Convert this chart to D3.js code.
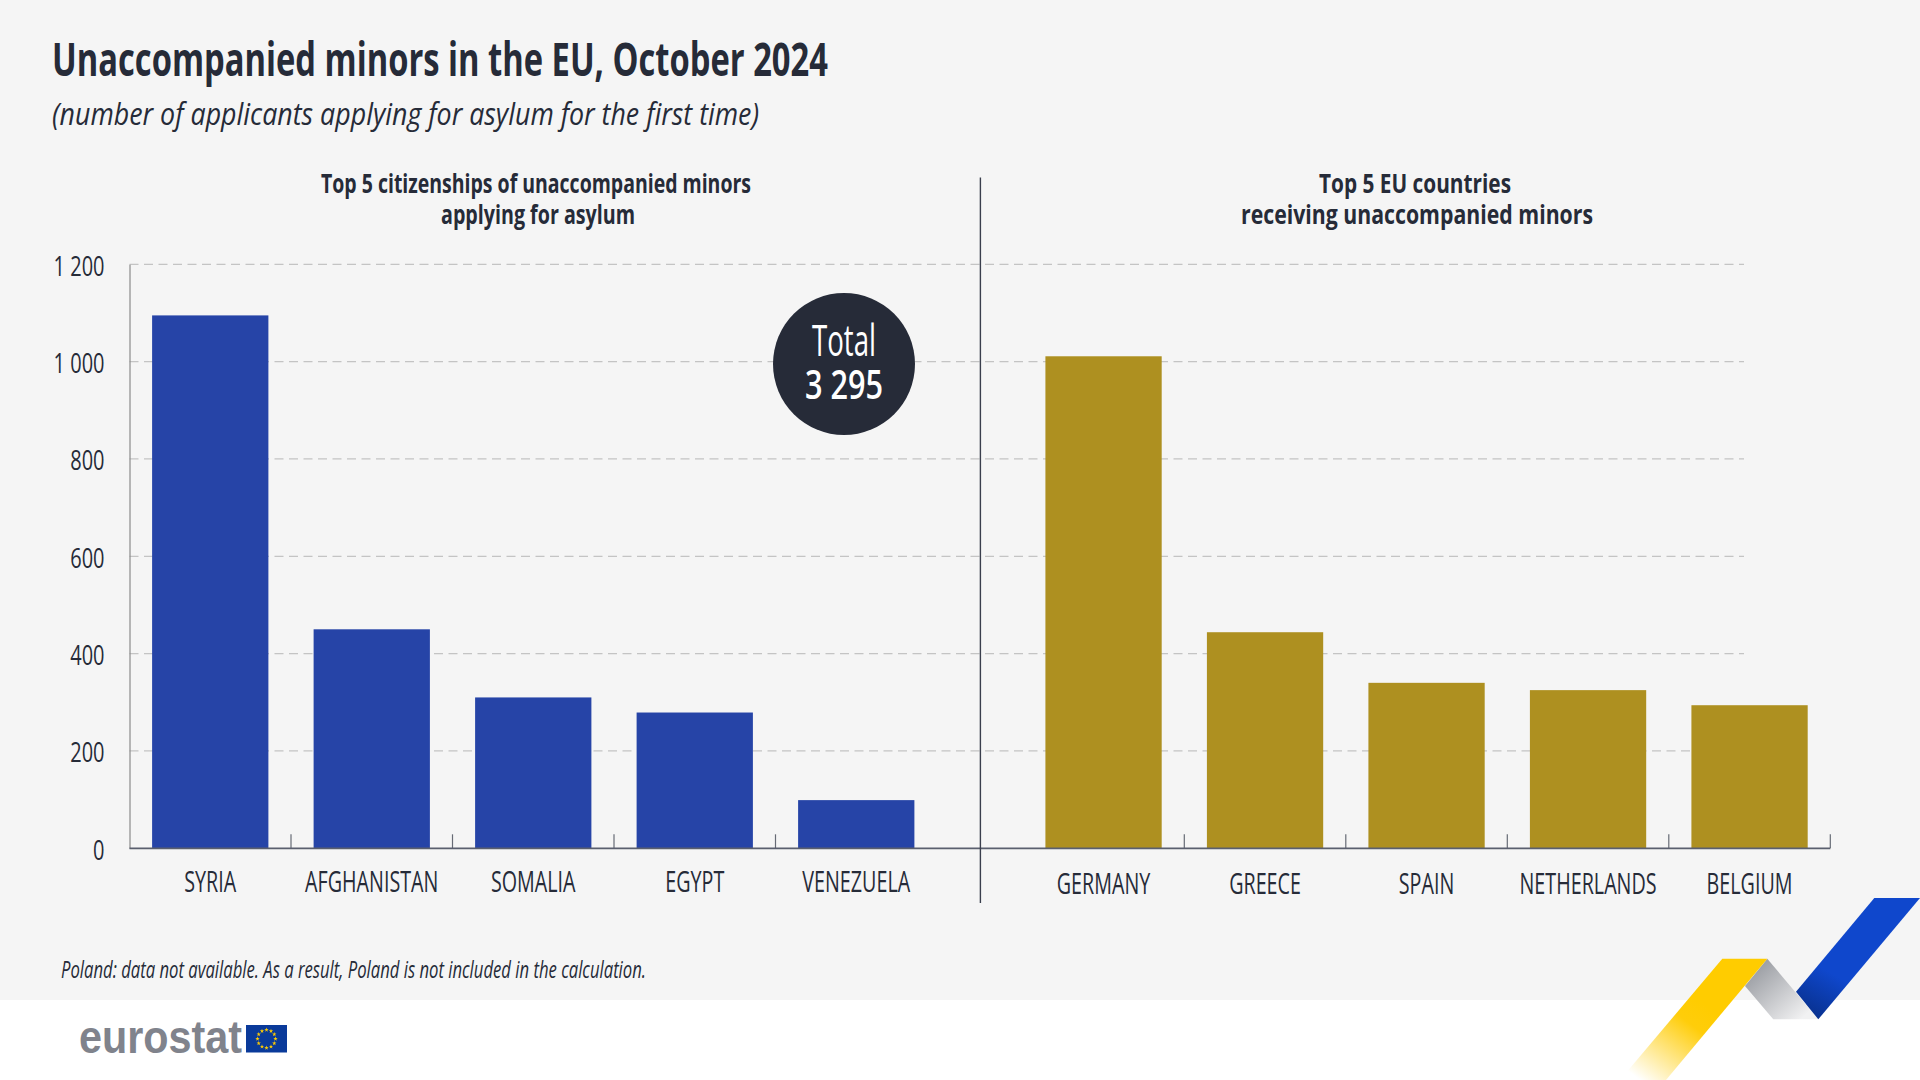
<!DOCTYPE html>
<html>
<head>
<meta charset="utf-8">
<script src="https://cdn.jsdelivr.net/npm/d3@7"></script>
<style>
  html, body { margin: 0; padding: 0; background: #fff; }
  text { font-family: "Open Sans", "Noto Sans", sans-serif; fill: #262b38; }
</style>
</head>
<body>
<div id="chart"></div>
<script>
const citizenships = ["SYRIA", "AFGHANISTAN", "SOMALIA", "EGYPT", "VENEZUELA"];
const citizenshipValues = [1095, 450, 310, 279, 99];
const receivers = ["GERMANY", "GREECE", "SPAIN", "NETHERLANDS", "BELGIUM"];
const receiverValues = [1011, 444, 340, 325, 294];
const yTicks = [0, 200, 400, 600, 800, 1000, 1200];

const width = 1920;
const height = 1080;
const baseY = 848.3;
const topY = 264.3;
const axisL = 129.5;

const svg = d3.select("#chart").append("svg")
  .attr("width", width)
  .attr("height", height)
  .style("display", "block");

const defs = svg.append("defs");

function gradient(id, x1, y1, x2, y2, stops) {
  const g = defs.append("linearGradient").attr("id", id)
    .attr("gradientUnits", "userSpaceOnUse")
    .attr("x1", x1).attr("y1", y1).attr("x2", x2).attr("y2", y2);
  stops.forEach((s) => g.append("stop").attr("offset", s[0]).attr("stop-color", s[1]));
}

svg.append("rect").attr("width", width).attr("height", 1000).attr("fill", "#f5f5f5");

// ribbon, bottom right
gradient("yellowFade", 1700, 1000, 1640, 1080, [[0, "#ffcc00"], [0.25, "#ffcd0a"], [1, "#ffffff"]]);
gradient("greyFade", 1750, 965, 1800, 1020, [[0, "#94979d"], [1, "#f1f1f2"]]);
gradient("blueFade", 1850, 960, 1815, 1020, [[0, "#0f47cc"], [0.3, "#0f47cc"], [1, "#08308c"]]);
const ribbon = d3.line();
svg.append("path").attr("fill", "url(#greyFade)")
  .attr("d", ribbon([[1767.3, 958.7], [1818.3, 1019.3], [1773.3, 1019.3], [1745, 986]]) + "Z");
svg.append("path").attr("fill", "url(#yellowFade)")
  .attr("d", ribbon([[1722.3, 958.7], [1767.3, 958.7], [1666, 1080], [1620, 1080]]) + "Z");
svg.append("path").attr("fill", "url(#blueFade)")
  .attr("d", ribbon([[1874.3, 898], [1920, 898], [1818.3, 1019.3], [1796, 991.7]]) + "Z");

// text helper, squeezes to the width measured on the picture
function label(x, y, str, size, w, opts = {}) {
  const t = svg.append("text")
    .attr("x", x).attr("y", y)
    .attr("font-size", size)
    .attr("font-weight", opts.weight || "normal")
    .attr("font-style", opts.style || "normal")
    .attr("text-anchor", opts.anchor || "start")
    .text(str);
  if (w) t.attr("textLength", w).attr("lengthAdjust", "spacingAndGlyphs");
  if (opts.fill) t.style("fill", opts.fill);
  return t;
}

// no condensed face installed, so tick labels are narrowed by a fixed factor
function squeeze(sel, factor) {
  sel.attr("lengthAdjust", "spacingAndGlyphs")
    .attr("textLength", function () { return this.getComputedTextLength() * factor; });
}

label(52, 76, "Unaccompanied minors in the EU, October 2024", 46, 776, { weight: 700 });
label(52, 125, "(number of applicants applying for asylum for the first time)", 31, 707, { style: "italic" });

label(536, 193, "Top 5 citizenships of unaccompanied minors", 27, 430, { weight: 700, anchor: "middle" });
label(538, 223.5, "applying for asylum", 27, 194, { weight: 700, anchor: "middle" });
label(1415, 193, "Top 5 EU countries", 27, 192, { weight: 700, anchor: "middle" });
label(1417, 223.5, "receiving unaccompanied minors", 27, 352, { weight: 700, anchor: "middle" });

label(61, 978, "Poland: data not available. As a result, Poland is not included in the calculation.", 23, 585, { style: "italic" });

const yScale = d3.scaleLinear().domain([0, 1200]).range([baseY, topY]);

const leftX = d3.scaleBand().domain(citizenships).range([129.5, 937])
  .paddingInner(0.28).paddingOuter(0.14);
const rightX = d3.scaleBand().domain(receivers).range([1022.8, 1830.3])
  .paddingInner(0.28).paddingOuter(0.14);

// gridlines
svg.append("g").selectAll("line")
  .data(yTicks.filter((d) => d > 0))
  .enter().append("line")
  .attr("x1", axisL).attr("x2", 1744)
  .attr("y1", (d) => yScale(d)).attr("y2", (d) => yScale(d))
  .attr("stroke", "#c4c4c4").attr("stroke-width", 1.2)
  .attr("stroke-dasharray", "9 5.5");

// y axis
const yAxis = svg.append("g")
  .attr("transform", `translate(${axisL},0)`)
  .call(d3.axisLeft(yScale).tickValues(yTicks).tickSize(0).tickPadding(25)
    .tickFormat((d) => d3.format(",")(d).replace(",", " ")));
yAxis.select(".domain").attr("stroke", "#8a8a8a").attr("stroke-width", 1.2);
yAxis.selectAll("text").attr("font-size", 27).attr("font-family", null).attr("dy", "0.4em").call(squeeze, 0.74);

function drawPanel(xScale, names, values, color, lastTick, labelDy) {
  svg.append("g").selectAll("rect")
    .data(names)
    .enter().append("rect")
    .attr("x", (d) => xScale(d))
    .attr("width", xScale.bandwidth())
    .attr("y", (d, i) => yScale(values[i]))
    .attr("height", (d, i) => baseY - yScale(values[i]))
    .attr("fill", color);

  const gap = xScale.step() * 0.14;
  svg.append("g").selectAll("line")
    .data(names.slice(0, lastTick))
    .enter().append("line")
    .attr("x1", (d) => xScale(d) + xScale.bandwidth() + gap)
    .attr("x2", (d) => xScale(d) + xScale.bandwidth() + gap)
    .attr("y1", baseY).attr("y2", baseY - 14)
    .attr("stroke", "#666b75").attr("stroke-width", 1.2);

  const ax = svg.append("g")
    .attr("transform", `translate(0,${baseY})`)
    .call(d3.axisBottom(xScale).tickSize(0).tickPadding(labelDy));
  ax.select(".domain").remove();
  ax.selectAll("text").attr("font-size", 29).attr("font-family", null).call(squeeze, 0.68);
}

drawPanel(leftX, citizenships, citizenshipValues, "#2644a7", 4, 23);
drawPanel(rightX, receivers, receiverValues, "#ae9020", 5, 25);

// x axis line and divider
svg.append("line").attr("x1", axisL).attr("x2", 1830.3)
  .attr("y1", baseY).attr("y2", baseY)
  .attr("stroke", "#5a5f6e").attr("stroke-width", 1.8);
svg.append("line").attr("x1", 980.4).attr("x2", 980.4)
  .attr("y1", 177.5).attr("y2", 903)
  .attr("stroke", "#3a3f4d").attr("stroke-width", 1.4);

// total badge
svg.append("circle").attr("cx", 844).attr("cy", 364).attr("r", 71).attr("fill", "#262b38");
label(844, 356, "Total", 43, 64, { anchor: "middle", fill: "#ffffff" });
label(844, 399, "3 295", 40, 78, { anchor: "middle", fill: "#ffffff", weight: 600 });

// logo
label(79, 1053, "eurostat", 46, 163, { weight: "bold", fill: "#80838c" }).style("font-family", "Liberation Sans");
svg.append("rect").attr("x", 246).attr("y", 1025).attr("width", 41).attr("height", 27.5).attr("fill", "#0a3a9a");
const star = d3.symbol().type(d3.symbolStar).size(6);
svg.append("g").selectAll("path")
  .data(d3.range(12))
  .enter().append("path")
  .attr("d", star)
  .attr("fill", "#ffcc00")
  .attr("transform", (d) => {
    const a = (d * Math.PI) / 6;
    return `translate(${266.5 + 9 * Math.sin(a)},${1038.8 - 9 * Math.cos(a)})`;
  });
</script>
</body>
</html>
